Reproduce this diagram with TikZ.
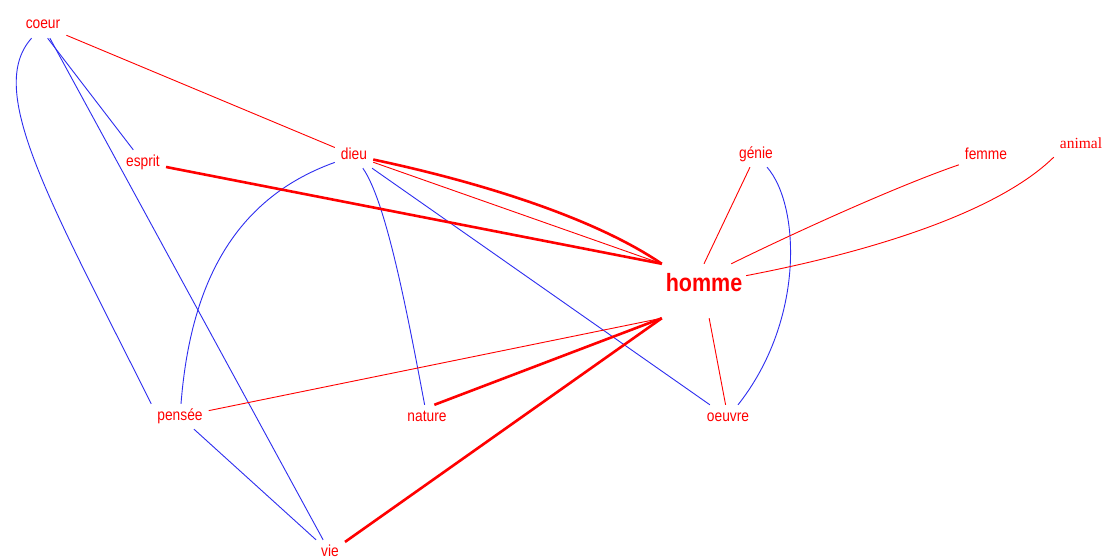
\documentclass[tikz,border=0pt]{standalone}
\usepackage{fontspec}
\newfontfamily\wordfont[FakeStretch=0.86]{Liberation Sans}
\newfontfamily\animalfont{Liberation Serif}
\definecolor{wordred}{RGB}{255,0,0}
\definecolor{linkblue}{RGB}{45,45,240}
\tikzset{
  word/.style={text=wordred, font=\wordfont\fontsize{16}{16}\selectfont, inner sep=6pt, text height=10pt, text depth=3pt, anchor=base},
  hub/.style={text=wordred, font=\wordfont\bfseries\fontsize{25}{25}\selectfont, inner sep=0pt, text height=0pt, text depth=0pt, minimum width=84pt, minimum height=54pt},
  redlink/.style={draw=wordred, line width=0.9pt},
  boldlink/.style={draw=wordred, line width=2.6pt},
  bluelink/.style={draw=linkblue, line width=0.9pt}
}
\begin{document}
\begin{tikzpicture}[x=1pt, y=-1pt]
    \path[use as bounding box, fill=white] (0,0) rectangle (1105,559);
    \node[word] (coeur) at (43,29) {coeur};
    \node[word] (esprit) at (143,166) {esprit};
    \node[word] (dieu) at (354,159) {dieu};
    \node[word] (genie) at (756,158) {génie};
    \node[word] (femme) at (986,159) {femme};
    \node[word, font=\animalfont\fontsize{15.5}{15.5}\selectfont] (animal) at (1081,148) {animal};
    \node[hub] (homme) at (704,291) {homme};
    \node[word] (pensee) at (180,420) {pensée};
    \node[word] (nature) at (427,421) {nature};
    \node[word] (oeuvre) at (728,421) {oeuvre};
    \node[word] (vie) at (330,556) {vie};
    % blue links
    \draw[bluelink] (coeur) .. controls (-15,90) and (50,201) .. (pensee.north west);
    \draw[bluelink] (coeur.-70) -- (esprit);
    \draw[bluelink] (coeur) -- (vie);
    \draw[bluelink] (pensee) -- (vie);
    \draw[bluelink] (dieu) .. controls (230,200) and (190,290) .. (pensee);
    \draw[bluelink] (dieu) .. controls (385,200) and (405,300) .. (nature);
    \draw[bluelink] (dieu) -- (oeuvre);
    \draw[bluelink] (genie) .. controls (800,205) and (805,320) .. (oeuvre);
    % red links
    \draw[redlink] (coeur) -- (dieu);
    \draw[redlink] (dieu) -- (homme.north west);
    \draw[redlink] (pensee) -- (homme.south west);
    \draw[redlink] (genie) -- (homme.north);
    \draw[redlink] (femme) .. controls (900,185) and (800,230) .. (homme.45);
    \draw[redlink] (animal.south west) .. controls (1000,210) and (880,250) .. (homme.20);
    \draw[redlink] (homme) -- (oeuvre);
    \draw[boldlink] (esprit) -- (homme.north west);
    \draw[boldlink] (dieu) .. controls (470,180) and (590,215) .. (homme.north west);
    \draw[boldlink] (nature.60) -- (homme.south west);
    \draw[boldlink] (vie) -- (homme.south west);
\end{tikzpicture}
\end{document}
